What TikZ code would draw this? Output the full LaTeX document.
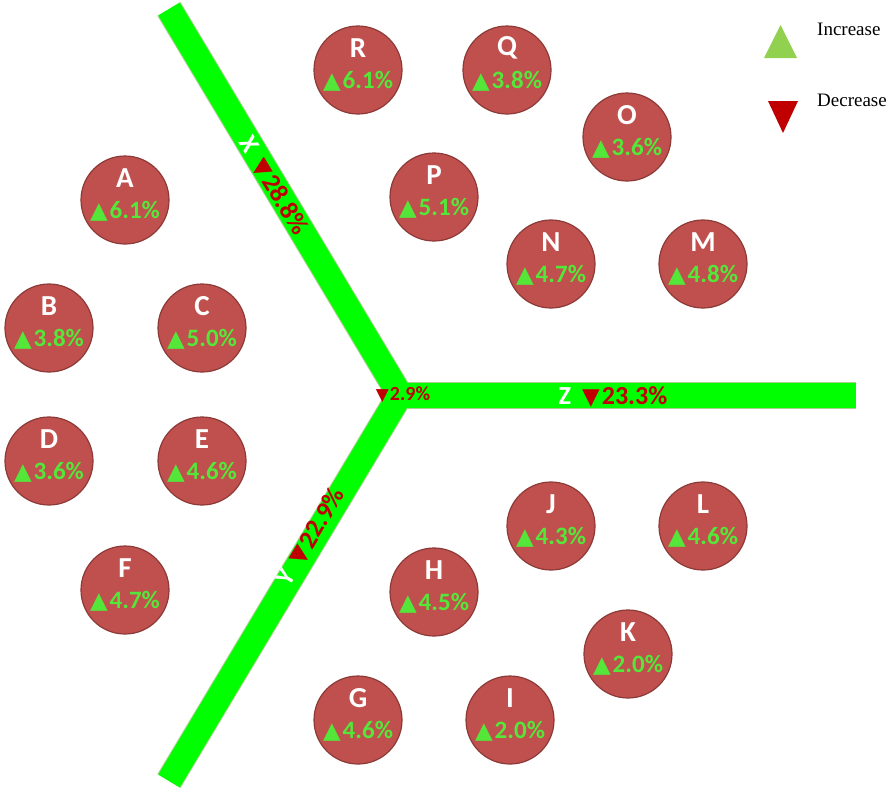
\documentclass[tikz,border=0pt]{standalone}
\usepackage{fontspec}
\setmainfont{Carlito}
\newfontfamily\symf{DejaVu Sans}
\newfontfamily\legf{Liberation Serif}
\definecolor{bubfill}{HTML}{C0504D}
\definecolor{bubedge}{HTML}{8C3A37}
\definecolor{pctgreen}{HTML}{55E63A}
\definecolor{barfill}{HTML}{00FF00}
\definecolor{baredge}{HTML}{A9D18E}
\definecolor{barred}{HTML}{C00000}
\definecolor{leggreen}{HTML}{92D050}
\begin{document}
\begin{tikzpicture}[x=1pt,y=-1pt,
  bubble/.style={circle, fill=bubfill, draw=bubedge, line width=1.2pt, minimum size=88pt, inner sep=0pt},
  lettxt/.style={text=white, font=\fontsize{29}{29}\selectfont\bfseries, inner sep=0pt},
  pcttxt/.style={text=pctgreen, font=\fontsize{25}{25}\selectfont\bfseries, inner sep=0pt},
  barlbl/.style={font=\fontsize{26}{26}\selectfont\bfseries, inner sep=0pt, text=barred},
  legtxt/.style={font=\legf\fontsize{19}{19}\selectfont, anchor=west, inner sep=0pt}]
\useasboundingbox (0,0) rectangle (894,788);
% bars
\coordinate (xend) at (169,9);
\coordinate (ctr) at (400,395);
\coordinate (yend) at (169,781);
\coordinate (zend) at (856,395);
\draw[baredge, line width=27pt, line join=miter] (xend) -- (ctr) -- (yend);
\draw[baredge, line width=27pt] (ctr) -- (zend);
\draw[barfill, line width=25pt, line join=miter] (xend) -- (ctr) -- (yend);
\draw[barfill, line width=25pt] (ctr) -- (zend);
% bar labels
\node[barlbl, rotate=-59] (xl) at (273,186) {{\color{white}X}\hspace{11pt}{\symf\fontsize{23}{23}\selectfont ▼}\hspace{2pt}28.8\%};
\node[barlbl, rotate=59] (yl) at (311,537) {{\color{white}Y}\hspace{11pt}{\symf\fontsize{23}{23}\selectfont ▼}\hspace{2pt}22.9\%};
\node[barlbl] (zl) at (613,397) {{\color{white}Z}\hspace{11pt}{\symf\fontsize{23}{23}\selectfont ▼}\hspace{2pt}23.3\%};
\node[barlbl, font=\fontsize{20}{20}\selectfont\bfseries] (cl) at (403,395) {{\symf\fontsize{17}{17}\selectfont ▼}\hspace{1pt}2.9\%};
% bubbles
\foreach \n/\x/\y/\v in {R/358/70/6.1, Q/507/70/3.8, O/627/137/3.6, P/434/197/5.1, N/551/264/4.7, M/703/264/4.8,
  A/125/200/6.1, B/49/328/3.8, C/202/328/5.0, D/49/461/3.6, E/202/461/4.6, F/125/590/4.7,
  J/551/526/4.3, L/703/526/4.6, H/434/592/4.5, K/628/654/2.0, G/358/720/4.6, I/510/720/2.0}{
  \node[bubble] (\n) at (\x,\y) {};
  \node[lettxt] (\n l) at ([yshift=22pt]\n.center) {\n};
  \node[pcttxt] (\n p) at ([yshift=-11pt]\n.center) {{\symf\fontsize{23}{23}\selectfont ▲}\hspace{2pt}\v\%};
}
% legend
\node[legtxt] (inc) at (817,29) {Increase};
\node[legtxt] (dec) at (817,100) {Decrease};
\fill[leggreen] (764,58) -- (797,58) -- (780.5,25) -- cycle;
\fill[barred] (768,101) -- (798,101) -- (783,133) -- cycle;
\end{tikzpicture}
\end{document}
